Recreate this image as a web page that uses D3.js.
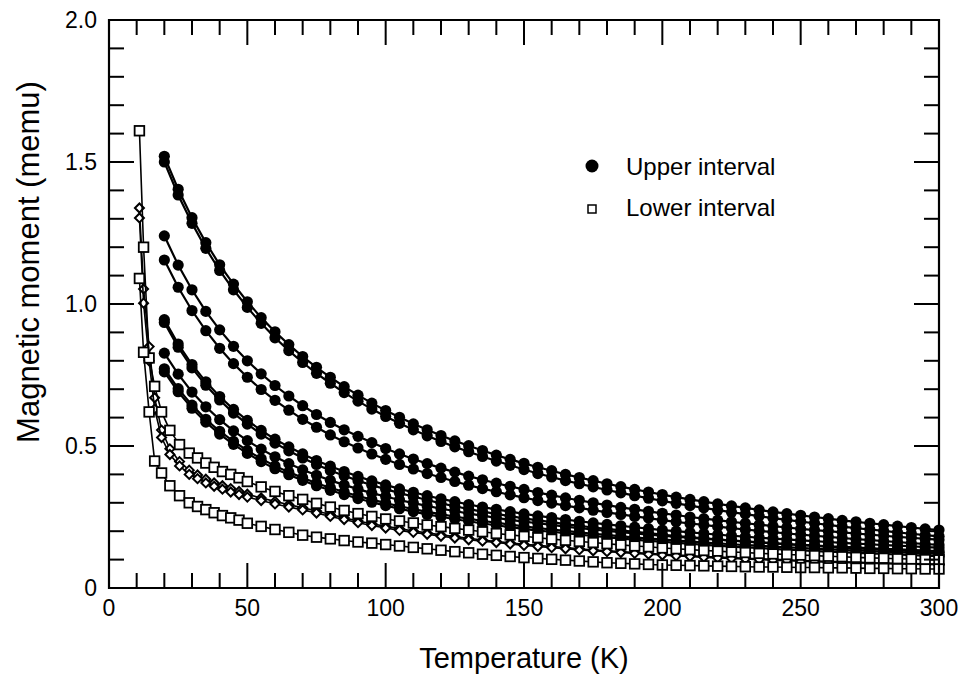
<!DOCTYPE html>
<html>
<head>
<meta charset="utf-8">
<script src="https://cdn.jsdelivr.net/npm/d3@7"></script>
<style>
  body { margin: 0; background: #fff; }
  svg { display: block; }
</style>
</head>
<body>
<div id="chart"></div>
<script>
/* Magnetic moment vs temperature, upper and lower intervals */

const xTicks = [0, 50, 100, 150, 200, 250, 300];
const xTickLabels = ["0", "50", "100", "150", "200", "250", "300"];
const yTicks = [0, 0.5, 1.0, 1.5, 2.0];
const yTickLabels = ["0", "0.5", "1.0", "1.5", "2.0"];
const xMinor = [0,10,20,30,40,50,60,70,80,90,100,110,120,130,140,150,160,170,180,190,200,
  210,220,230,240,250,260,270,280,290,300];
const yMinor = [0,0.1,0.2,0.3,0.4,0.5,0.6,0.7,0.8,0.9,1.0,1.1,1.2,1.3,1.4,1.5,1.6,1.7,1.8,1.9,2.0];

// upper interval, every 5 K from 20 K
const tempUpper = [20,25,30,35,40,45,50,55,60,65,70,75,80,85,90,95,100,105,110,115,
  120,125,130,135,140,145,150,155,160,165,170,175,180,185,190,195,200,205,210,215,
  220,225,230,235,240,245,250,255,260,265,270,275,280,285,290,295,300];

const upper1 = [1.520,1.404,1.304,1.216,1.138,1.070,1.008,0.952,0.902,0.857,0.815,0.777,0.742,0.709,0.679,0.651,0.625,0.601,0.578,0.557,
  0.537,0.518,0.501,0.484,0.468,0.453,0.439,0.425,0.413,0.400,0.389,0.378,0.367,0.357,0.347,0.338,0.329,0.320,0.312,0.304,
  0.296,0.289,0.282,0.275,0.268,0.262,0.256,0.250,0.244,0.238,0.233,0.228,0.223,0.218,0.213,0.208,0.204];
const upper2 = [1.500,1.384,1.284,1.196,1.118,1.050,0.988,0.932,0.881,0.836,0.794,0.756,0.721,0.688,0.658,0.630,0.604,0.580,0.557,0.536,
  0.516,0.497,0.480,0.463,0.447,0.432,0.417,0.403,0.391,0.378,0.367,0.356,0.345,0.335,0.325,0.316,0.307,0.298,0.290,0.282,
  0.274,0.267,0.260,0.253,0.246,0.240,0.234,0.228,0.222,0.216,0.211,0.206,0.201,0.196,0.191,0.186,0.182];
const upper3 = [1.240,1.137,1.050,0.974,0.909,0.851,0.800,0.754,0.713,0.676,0.642,0.611,0.583,0.557,0.534,0.512,0.491,0.472,0.454,0.438,
  0.422,0.408,0.394,0.381,0.369,0.358,0.347,0.336,0.327,0.317,0.309,0.300,0.292,0.284,0.277,0.270,0.263,0.257,0.250,0.244,
  0.239,0.233,0.228,0.223,0.218,0.213,0.208,0.204,0.200,0.196,0.192,0.188,0.184,0.180,0.177,0.173,0.170];
const upper4 = [1.155,1.059,0.977,0.906,0.844,0.790,0.742,0.699,0.661,0.626,0.594,0.566,0.539,0.515,0.493,0.472,0.453,0.435,0.419,0.403,
  0.389,0.375,0.362,0.350,0.339,0.328,0.318,0.308,0.299,0.290,0.282,0.274,0.266,0.259,0.252,0.246,0.239,0.233,0.227,0.222,
  0.216,0.211,0.206,0.201,0.197,0.192,0.188,0.184,0.180,0.176,0.172,0.169,0.165,0.162,0.158,0.155,0.152];
const upper5 = [0.945,0.859,0.787,0.726,0.674,0.629,0.590,0.555,0.524,0.497,0.472,0.449,0.429,0.410,0.393,0.377,0.363,0.349,0.337,0.325,
  0.314,0.304,0.294,0.285,0.277,0.269,0.261,0.254,0.248,0.241,0.235,0.229,0.224,0.219,0.214,0.209,0.204,0.200,0.196,0.192,
  0.188,0.184,0.181,0.177,0.174,0.171,0.168,0.165,0.162,0.159,0.156,0.154,0.151,0.149,0.147,0.144,0.142];
const upper6 = [0.935,0.848,0.775,0.714,0.662,0.616,0.577,0.542,0.510,0.483,0.458,0.435,0.414,0.395,0.378,0.362,0.348,0.334,0.322,0.310,
  0.298,0.288,0.278,0.269,0.261,0.253,0.245,0.238,0.232,0.225,0.219,0.213,0.208,0.203,0.198,0.193,0.188,0.183,0.179,0.175,
  0.171,0.167,0.164,0.160,0.157,0.154,0.151,0.148,0.145,0.142,0.139,0.137,0.134,0.132,0.130,0.127,0.125];
const upper7 = [0.827,0.753,0.690,0.638,0.593,0.553,0.519,0.489,0.462,0.438,0.416,0.397,0.379,0.363,0.348,0.334,0.322,0.310,0.299,0.289,
  0.279,0.271,0.262,0.255,0.247,0.240,0.234,0.228,0.222,0.216,0.211,0.206,0.201,0.197,0.192,0.188,0.184,0.180,0.177,0.173,
  0.170,0.167,0.164,0.161,0.158,0.155,0.152,0.150,0.147,0.145,0.143,0.140,0.138,0.136,0.134,0.132,0.130];
const upper8 = [0.772,0.702,0.644,0.594,0.552,0.516,0.484,0.455,0.430,0.408,0.388,0.369,0.353,0.338,0.324,0.311,0.299,0.288,0.278,0.268,
  0.260,0.251,0.244,0.236,0.230,0.223,0.217,0.211,0.206,0.201,0.196,0.191,0.187,0.182,0.178,0.174,0.171,0.167,0.164,0.160,
  0.157,0.154,0.151,0.149,0.146,0.143,0.141,0.138,0.136,0.134,0.132,0.130,0.128,0.126,0.124,0.122,0.120];
const upper9 = [0.761,0.691,0.633,0.584,0.542,0.506,0.474,0.445,0.420,0.399,0.379,0.360,0.344,0.329,0.315,0.302,0.290,0.279,0.269,0.259,
  0.251,0.242,0.235,0.227,0.221,0.214,0.208,0.202,0.198,0.193,0.188,0.183,0.179,0.174,0.170,0.166,0.163,0.159,0.156,0.152,
  0.149,0.146,0.143,0.141,0.138,0.135,0.133,0.130,0.128,0.126,0.124,0.122,0.120,0.118,0.116,0.114,0.112];

// lower interval, denser below 50 K
const tempLower = [11,12.5,14.5,16.5,19,22,25.5,29,32,35,38,41,44,47,
  50,55,60,65,70,75,80,85,90,95,100,105,110,115,120,125,130,135,140,145,150,155,160,165,170,175,
  180,185,190,195,200,205,210,215,220,225,230,235,240,245,250,255,260,265,270,275,280,285,290,295,300];

const lower1 = [1.610,1.200,0.810,0.710,0.620,0.555,0.505,0.475,0.458,0.440,0.425,0.410,0.400,0.388,
  0.375,0.356,0.340,0.325,0.312,0.298,0.285,0.273,0.262,0.252,0.243,0.236,0.229,0.222,0.216,0.210,0.204,0.198,0.192,0.187,0.182,
  0.177,0.172,0.168,0.164,0.160,0.156,0.152,0.148,0.145,0.141,0.138,0.135,0.132,0.130,0.127,0.125,0.122,0.120,0.118,0.116,
  0.114,0.112,0.110,0.108,0.106,0.105,0.103,0.102,0.100,0.099];
const lower2 = [1.090,0.830,0.620,0.447,0.405,0.360,0.325,0.300,0.287,0.276,0.265,0.255,0.247,0.239,
  0.228,0.217,0.206,0.196,0.186,0.179,0.173,0.167,0.162,0.158,0.153,0.148,0.143,0.138,0.133,0.128,0.124,0.119,0.115,0.111,0.107,
  0.104,0.101,0.098,0.095,0.092,0.089,0.087,0.085,0.083,0.081,0.080,0.079,0.078,0.077,0.076,0.075,0.074,0.074,0.073,0.072,
  0.072,0.071,0.071,0.070,0.069,0.069,0.068,0.068,0.067,0.067];
const diamond1 = [1.338,1.053,0.850,0.670,0.556,0.490,0.445,0.415,0.398,0.383,0.370,0.360,0.350,0.340,
  0.330,0.317,0.305,0.293,0.283,0.271,0.259,0.247,0.236,0.226,0.217,0.209,0.201,0.194,0.187,0.181,0.175,0.169,0.164,0.159,0.154,
  0.150,0.146,0.142,0.138,0.134,0.131,0.128,0.125,0.122,0.119,0.116,0.114,0.111,0.109,0.107,0.105,0.103,0.101,0.099,0.097,
  0.095,0.094,0.092,0.091,0.089,0.088,0.087,0.086,0.085,0.084];
const diamond2 = [1.303,1.003,0.800,0.630,0.530,0.470,0.430,0.400,0.385,0.370,0.358,0.348,0.338,0.329,
  0.320,0.308,0.296,0.285,0.275,0.264,0.252,0.241,0.230,0.220,0.211,0.203,0.196,0.189,0.182,0.176,0.170,0.165,0.160,0.155,0.150,
  0.146,0.142,0.138,0.134,0.131,0.128,0.125,0.122,0.119,0.116,0.113,0.111,0.108,0.106,0.104,0.102,0.100,0.098,0.096,0.094,
  0.093,0.091,0.090,0.088,0.087,0.086,0.085,0.084,0.083,0.082];

const legendLabels = ["Upper interval", "Lower interval"];

const width = 966, height = 681,
      margin = ({ top: 20, right: 27, bottom: 93, left: 109 });
const font = "'Liberation Sans', Arial, Helvetica, sans-serif";

let svg = d3.select("#chart")
    .append("svg")
    .attr("width", width)
    .attr("height", height);

let x = d3.scaleLinear()
    .domain([0, 300])
    .range([margin.left, width - margin.right]);

let y = d3.scaleLinear()
    .domain([0, 2])
    .range([height - margin.bottom, margin.top]);

let line = d3.line()
    .x(d => x(d[0]))
    .y(d => y(d[1]));

// upper interval: filled circles
const upperSeries = [upper1, upper2, upper3, upper4, upper5, upper6, upper7, upper8, upper9];
upperSeries.forEach(vals => {
    let pts = d3.zip(tempUpper, vals);
    let g = svg.append("g");
    g.append("path")
        .attr("d", line(pts))
        .attr("fill", "none")
        .attr("stroke", "black")
        .attr("stroke-width", 2.2);
    g.selectAll("circle")
        .data(pts)
        .join("circle")
        .attr("cx", d => x(d[0]))
        .attr("cy", d => y(d[1]))
        .attr("r", 5.6)
        .attr("fill", "black");
});

// diamonds
const diamondPath = "M0,-4.5L4.5,0L0,4.5L-4.5,0Z";
[diamond1, diamond2].forEach(vals => {
    let pts = d3.zip(tempLower, vals);
    let g = svg.append("g");
    g.append("path")
        .attr("d", line(pts))
        .attr("fill", "none")
        .attr("stroke", "black")
        .attr("stroke-width", 1.6);
    g.selectAll(".dm")
        .data(pts)
        .join("path")
        .attr("class", "dm")
        .attr("transform", d => `translate(${x(d[0])},${y(d[1])})`)
        .attr("d", diamondPath)
        .attr("fill", "white")
        .attr("stroke", "black")
        .attr("stroke-width", 2);
});

// lower interval: open squares
[lower1, lower2].forEach(vals => {
    let pts = d3.zip(tempLower, vals);
    let g = svg.append("g");
    g.append("path")
        .attr("d", line(pts))
        .attr("fill", "none")
        .attr("stroke", "black")
        .attr("stroke-width", 1.6);
    g.selectAll("rect")
        .data(pts)
        .join("rect")
        .attr("x", d => x(d[0]) - 4.8)
        .attr("y", d => y(d[1]) - 4.8)
        .attr("width", 9.6)
        .attr("height", 9.6)
        .attr("fill", "white")
        .attr("stroke", "black")
        .attr("stroke-width", 1.8);
});

// legend
let legend = svg.append("g").attr("font-family", font).attr("font-size", 24);
legend.append("circle")
    .attr("cx", 592).attr("cy", 166).attr("r", 6.5)
    .attr("fill", "black");
legend.append("text")
    .attr("x", 626).attr("y", 175)
    .text(legendLabels[0]);
legend.append("rect")
    .attr("x", 588).attr("y", 205).attr("width", 8).attr("height", 8)
    .attr("fill", "white").attr("stroke", "black").attr("stroke-width", 1.5);
legend.append("text")
    .attr("x", 626).attr("y", 216)
    .text(legendLabels[1]);

// axis titles
svg.append("text")
    .attr("x", (x(0) + x(300)) / 2)
    .attr("y", 668)
    .attr("text-anchor", "middle")
    .attr("font-family", font)
    .attr("font-size", 29)
    .text("Temperature (K)");

svg.append("text")
    .attr("transform", "translate(39,262) rotate(-90)")
    .attr("text-anchor", "middle")
    .attr("font-family", font)
    .attr("font-size", 31)
    .text("Magnetic moment (memu)");

// tick labels
svg.selectAll(".xlab")
    .data(xTicks)
    .join("text")
    .attr("class", "xlab")
    .attr("x", d => x(d))
    .attr("y", y(0) + 28)
    .attr("text-anchor", "middle")
    .attr("font-family", font)
    .attr("font-size", 23)
    .text((d, i) => xTickLabels[i]);
svg.selectAll(".ylab")
    .data(yTicks)
    .join("text")
    .attr("class", "ylab")
    .attr("x", x(0) - 12)
    .attr("y", d => y(d) + 8)
    .attr("text-anchor", "end")
    .attr("font-family", font)
    .attr("font-size", 23)
    .text((d, i) => yTickLabels[i]);

// inward tick marks on all four sides, long ones at the labelled values
const tickLen = (d, major) => major.some(v => Math.abs(v - d) < 1e-9) ? 25 : 15;

svg.selectAll(".tb")
    .data(xMinor)
    .join("rect")
    .attr("class", "tb")
    .attr("x", d => x(d) - 1)
    .attr("y", d => y(0) - tickLen(d, xTicks))
    .attr("width", 2)
    .attr("height", d => tickLen(d, xTicks))
    .attr("fill", "black");
svg.selectAll(".tt")
    .data(xMinor)
    .join("rect")
    .attr("class", "tt")
    .attr("x", d => x(d) - 1)
    .attr("y", y(2))
    .attr("width", 2)
    .attr("height", d => tickLen(d, xTicks))
    .attr("fill", "black");
svg.selectAll(".tl")
    .data(yMinor)
    .join("rect")
    .attr("class", "tl")
    .attr("x", x(0))
    .attr("y", d => y(d) - 1)
    .attr("width", d => tickLen(d, yTicks))
    .attr("height", 2)
    .attr("fill", "black");
svg.selectAll(".tr")
    .data(yMinor)
    .join("rect")
    .attr("class", "tr")
    .attr("x", d => x(300) - tickLen(d, yTicks))
    .attr("y", d => y(d) - 1)
    .attr("width", d => tickLen(d, yTicks))
    .attr("height", 2)
    .attr("fill", "black");

// plot frame
svg.append("path")
    .attr("d", `M${x(0)},${y(0)}L${x(300)},${y(0)}L${x(300)},${y(2)}L${x(0)},${y(2)}Z`)
    .attr("fill", "none")
    .attr("stroke", "black")
    .attr("stroke-width", 2.2);
</script>
</body>
</html>
